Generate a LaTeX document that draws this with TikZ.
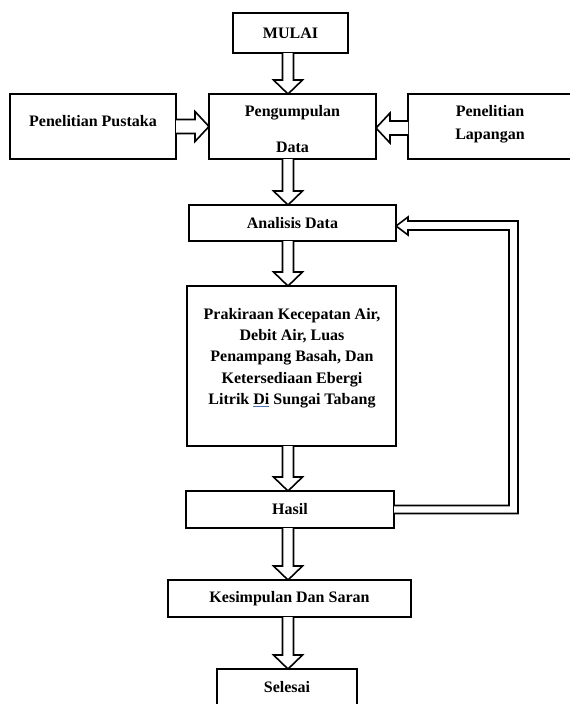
\documentclass[tikz,border=0pt]{standalone}
\usepackage{fontspec}
\setmainfont{Liberation Serif}
\usetikzlibrary{calc}
\definecolor{spell}{HTML}{4A6FC0}
\begin{document}
\begin{tikzpicture}[x=1pt,y=-1pt,
  box/.style={draw=black, line width=2pt, rectangle, inner sep=0pt, outer sep=0pt, fill=white},
  txt/.style={inner sep=0pt, font=\fontsize{16}{21}\selectfont\bfseries, align=center},
  harrow/.style={draw=black, line width=1.6pt, fill=white, line join=miter}]
\fill[white] (0,0) rectangle (570,704);
\useasboundingbox (0,0) rectangle (570,704);
\coordinate (ax) at (288,0);
% boxes
\node[box, minimum width=115pt, minimum height=40pt] (mulai) at (290.5,33) {};
\node[box, minimum width=166pt, minimum height=65pt] (pust) at (93,126.5) {};
\node[box, minimum width=167pt, minimum height=65pt] (peng) at (292.5,126.5) {};
\node[box, minimum width=172pt, minimum height=65pt] (lap) at (494,126.5) {};
\node[box, minimum width=207pt, minimum height=36pt] (anal) at (292.5,223) {};
\node[box, minimum width=209pt, minimum height=160pt] (prak) at (291.5,366) {};
\node[box, minimum width=208pt, minimum height=37pt] (hasil) at (290,509.5) {};
\node[box, minimum width=243pt, minimum height=37pt] (kes) at (289.5,598.5) {};
\node[box, minimum width=140pt, minimum height=37pt] (sel) at (287,687.5) {};
% texts
\node[txt] (tmulai) at (290.5,33) {MULAI};
\node[txt] (tpust) at (93,121) {Penelitian Pustaka};
\node[txt] (tpeng1) at (292.5,113) {Pengumpulan};
\node[txt] (tpeng2) at (292.5,147) {Data};
\node[txt, font=\fontsize{16}{23}\selectfont\bfseries] (tlap) at (490,124.5) {Penelitian\\Lapangan};
\node[txt] (tanal) at (292.5,223) {Analisis Data};
\node[txt, font=\fontsize{16}{21.25}\selectfont\bfseries] (tprak) at (292,358) {Prakiraan Kecepatan Air,\\Debit Air, Luas\\Penampang Basah, Dan\\Ketersediaan Ebergi\\Litrik {\color{spell}\underline{\color{black}Di}} Sungai Tabang};
\node[txt] (thasil) at (290,509.5) {Hasil};
\node[txt] (tkes) at (289.5,598.5) {Kesimpulan Dan Saran};
\node[txt] (tsel) at (287,687.5) {Selesai};
% vertical hollow arrows
\newcommand\varrow[2]{%
  \draw[harrow] ($(ax|-#1.south)+(-5.5,0)$) -- ($(ax|-#2.north)+(-5.5,-14)$)
    -- ($(ax|-#2.north)+(-14.5,-14)$) -- (ax|-#2.north)
    -- ($(ax|-#2.north)+(14.5,-14)$) -- ($(ax|-#2.north)+(5.5,-14)$)
    -- ($(ax|-#1.south)+(5.5,0)$);}
\varrow{mulai}{peng}
\varrow{peng}{anal}
\varrow{anal}{prak}
\varrow{prak}{hasil}
\varrow{hasil}{kes}
\varrow{kes}{sel}
% horizontal hollow arrows
\draw[harrow] ($(pust.east)+(0,-7)$) -- ($(peng.west|-pust.east)+(-14,-7)$)
  -- ($(peng.west|-pust.east)+(-14,-15)$) -- (peng.west|-pust.east)
  -- ($(peng.west|-pust.east)+(-14,15)$) -- ($(peng.west|-pust.east)+(-14,7)$)
  -- ($(pust.east)+(0,7)$);
\draw[harrow] ($(lap.west)+(0,-5.5)$) -- ($(peng.east|-lap.west)+(14,-5.5)$)
  -- ($(peng.east|-lap.west)+(14,-13.5)$) -- ($(peng.east|-lap.west)+(0,1.5)$)
  -- ($(peng.east|-lap.west)+(14,16.5)$) -- ($(peng.east|-lap.west)+(14,8.5)$)
  -- ($(lap.west)+(0,8.5)$);
% feedback loop Hasil -> Analisis Data
\draw[harrow] ($(hasil.east)+(0,-4)$) -- ($(hasil.east)+(115,-4)$)
  -- ($(anal.east)+(113,7)$) -- ($(anal.east)+(12,7)$)
  -- ($(anal.east)+(12,12)$) -- ($(anal.east)+(0,3)$)
  -- ($(anal.east)+(12,-6)$) -- ($(anal.east)+(12,-2)$)
  -- ($(anal.east)+(122,-2)$) -- ($(hasil.east)+(124,4)$)
  -- ($(hasil.east)+(0,4)$);
\end{tikzpicture}
\end{document}
